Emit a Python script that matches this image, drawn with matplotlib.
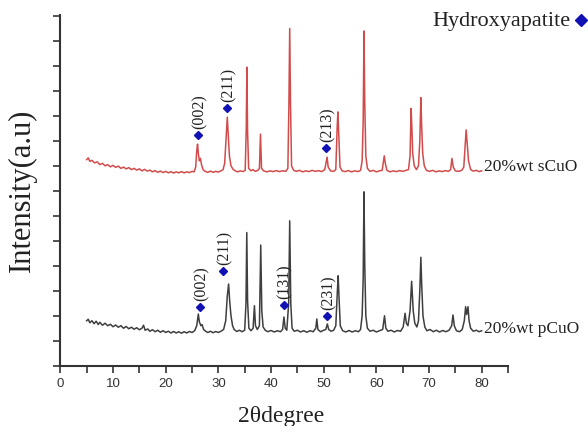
import numpy as np
import matplotlib.pyplot as plt
from matplotlib.ticker import MultipleLocator

# XRD traces: (2theta, intensity offset) vertices
s_cuo = [
    (5.0, 8.25), (5.3, 8.32), (5.6, 8.18), (6.0, 8.22), (6.5, 8.12), (7.0, 8.16),
    (7.5, 8.05), (8.0, 8.10), (8.5, 8.00), (9.0, 8.05), (9.5, 7.96), (10.0, 8.02),
    (10.5, 7.94), (11.0, 7.99), (11.5, 7.90), (12.0, 7.95), (12.5, 7.88), (13.0, 7.93),
    (13.5, 7.85), (14.0, 7.90), (14.5, 7.83), (15.0, 7.88), (15.5, 7.80), (16.0, 7.86),
    (16.5, 7.79), (17.0, 7.83), (17.5, 7.76), (18.0, 7.81), (18.5, 7.74), (19.0, 7.79),
    (19.5, 7.73), (20.0, 7.78), (20.5, 7.72), (21.0, 7.77), (21.5, 7.71), (22.0, 7.76),
    (22.5, 7.72), (23.0, 7.77), (23.5, 7.72), (24.0, 7.76), (24.5, 7.73), (25.0, 7.78),
    (25.4, 7.76), (25.7, 7.95), (25.9, 8.6), (26.05, 8.87), (26.2, 8.5), (26.4, 8.2),
    (26.6, 8.3), (26.8, 8.05), (27.1, 7.85), (27.5, 7.78), (28.0, 7.74), (28.5, 7.79),
    (29.0, 7.74), (29.5, 7.78), (30.0, 7.75), (30.5, 7.80), (30.9, 7.85), (31.2, 8.1),
    (31.45, 9.0), (31.7, 9.95), (31.9, 9.2), (32.1, 8.4), (32.4, 8.0), (32.8, 7.86),
    (33.2, 7.80), (33.7, 7.76), (34.2, 7.80), (34.7, 7.77), (35.1, 7.82), (35.3, 9.5),
    (35.42, 11.95), (35.55, 9.4), (35.75, 7.9), (36.2, 7.80), (36.6, 7.85), (37.0, 7.78),
    (37.5, 7.82), (37.8, 7.9), (38.0, 9.27), (38.2, 7.9), (38.6, 7.80), (39.2, 7.76),
    (39.8, 7.80), (40.4, 7.77), (41.0, 7.81), (41.6, 7.77), (42.2, 7.80), (42.8, 7.78),
    (43.2, 7.9), (43.4, 10.5), (43.55, 13.5), (43.7, 10.5), (43.9, 8.0), (44.3, 7.82),
    (44.8, 7.78), (45.4, 7.82), (46.0, 7.76), (46.6, 7.80), (47.2, 7.77), (47.8, 7.82),
    (48.4, 7.78), (49.0, 7.81), (49.6, 7.77), (50.2, 7.85), (50.5, 8.2), (50.65, 8.35),
    (50.85, 7.95), (51.3, 7.80), (51.9, 7.78), (52.3, 7.85), (52.55, 9.5), (52.7, 10.16),
    (52.85, 9.3), (53.1, 7.95), (53.5, 7.80), (54.1, 7.77), (54.7, 7.81), (55.3, 7.76),
    (55.9, 7.80), (56.5, 7.77), (57.0, 7.82), (57.3, 8.2), (57.5, 9.8), (57.65, 13.4),
    (57.8, 10.5), (58.0, 8.4), (58.3, 7.9), (58.8, 7.78), (59.4, 7.82), (60.0, 7.76),
    (60.6, 7.80), (61.1, 7.82), (61.35, 8.2), (61.5, 8.4), (61.7, 8.1), (62.0, 7.82),
    (62.6, 7.76), (63.2, 7.80), (63.8, 7.77), (64.4, 7.81), (65.0, 7.78), (65.6, 7.82),
    (66.1, 7.85), (66.4, 8.4), (66.6, 10.3), (66.75, 9.5), (66.9, 8.5), (67.2, 8.0),
    (67.6, 7.85), (68.0, 8.0), (68.25, 9.0), (68.45, 10.73), (68.6, 9.6), (68.8, 8.5),
    (69.1, 8.0), (69.5, 7.82), (70.1, 7.78), (70.7, 7.82), (71.3, 7.76), (71.9, 7.80),
    (72.5, 7.77), (73.1, 7.81), (73.7, 7.78), (74.1, 7.85), (74.35, 8.3), (74.6, 7.95),
    (75.0, 7.80), (75.6, 7.78), (76.2, 7.82), (76.6, 7.95), (76.9, 8.9), (77.05, 9.44),
    (77.25, 8.9), (77.5, 8.2), (77.9, 7.85), (78.4, 7.79), (79.0, 7.82), (79.5, 7.77),
    (80.0, 7.80),
]

p_cuo = [
    (5.0, 1.80), (5.3, 1.86), (5.6, 1.72), (6.0, 1.80), (6.4, 1.68), (6.8, 1.78),
    (7.2, 1.65), (7.5, 1.74), (8.0, 1.62), (8.5, 1.70), (9.0, 1.60), (9.5, 1.66),
    (10.0, 1.56), (10.5, 1.63), (11.0, 1.54), (11.5, 1.60), (12.0, 1.50), (12.5, 1.57),
    (13.0, 1.48), (13.5, 1.54), (14.0, 1.46), (14.5, 1.52), (15.0, 1.44), (15.5, 1.50),
    (15.8, 1.62), (16.1, 1.42), (16.6, 1.47), (17.0, 1.38), (17.5, 1.44), (18.0, 1.36),
    (18.5, 1.42), (19.0, 1.34), (19.5, 1.40), (20.0, 1.33), (20.5, 1.38), (21.0, 1.31),
    (21.5, 1.37), (22.0, 1.31), (22.5, 1.36), (23.0, 1.30), (23.5, 1.36), (24.0, 1.31),
    (24.5, 1.37), (25.0, 1.33), (25.5, 1.40), (25.9, 1.6), (26.2, 2.07), (26.4, 1.75),
    (26.7, 1.6), (26.9, 1.65), (27.2, 1.45), (27.6, 1.38), (28.0, 1.33), (28.5, 1.38),
    (29.0, 1.32), (29.5, 1.37), (30.0, 1.33), (30.5, 1.38), (31.0, 1.45), (31.4, 1.8),
    (31.7, 2.8), (31.95, 3.27), (32.15, 2.6), (32.4, 2.0), (32.7, 1.6), (33.0, 1.45),
    (33.5, 1.37), (34.0, 1.42), (34.5, 1.36), (35.0, 1.42), (35.25, 2.5), (35.4, 5.33),
    (35.55, 2.6), (35.8, 1.5), (36.2, 1.40), (36.6, 1.5), (36.85, 2.4), (37.05, 1.6),
    (37.4, 1.45), (37.8, 1.6), (38.05, 4.83), (38.25, 2.2), (38.5, 1.55), (38.9, 1.42),
    (39.4, 1.36), (40.0, 1.41), (40.6, 1.35), (41.2, 1.40), (41.8, 1.36), (42.2, 1.45),
    (42.45, 1.95), (42.7, 1.5), (43.0, 1.42), (43.35, 2.5), (43.55, 5.8), (43.75, 2.5),
    (44.0, 1.5), (44.4, 1.38), (45.0, 1.42), (45.6, 1.35), (46.2, 1.40), (46.8, 1.34),
    (47.4, 1.40), (48.0, 1.36), (48.5, 1.5), (48.7, 1.87), (48.9, 1.45), (49.4, 1.36),
    (50.0, 1.42), (50.4, 1.45), (50.7, 1.67), (50.95, 1.45), (51.4, 1.38), (51.9, 1.42),
    (52.3, 1.6), (52.6, 3.0), (52.75, 3.6), (52.9, 2.8), (53.15, 1.6), (53.6, 1.40),
    (54.2, 1.35), (54.8, 1.41), (55.4, 1.35), (56.0, 1.40), (56.6, 1.36), (57.0, 1.45),
    (57.3, 2.0), (57.5, 3.5), (57.65, 6.96), (57.8, 4.0), (58.0, 2.0), (58.3, 1.5),
    (58.8, 1.38), (59.4, 1.42), (60.0, 1.35), (60.6, 1.40), (61.2, 1.45), (61.55, 2.0),
    (61.8, 1.5), (62.2, 1.38), (62.8, 1.42), (63.4, 1.35), (64.0, 1.41), (64.6, 1.38),
    (65.1, 1.55), (65.45, 2.1), (65.7, 1.7), (66.0, 1.6), (66.4, 2.2), (66.7, 3.38),
    (66.85, 2.8), (67.0, 2.2), (67.3, 1.7), (67.7, 1.55), (68.0, 1.8), (68.25, 3.0),
    (68.45, 4.34), (68.6, 3.3), (68.85, 2.0), (69.2, 1.55), (69.6, 1.40), (70.2, 1.45),
    (70.8, 1.36), (71.4, 1.42), (72.0, 1.35), (72.6, 1.41), (73.2, 1.36), (73.8, 1.42),
    (74.3, 1.6), (74.55, 2.03), (74.8, 1.6), (75.2, 1.40), (75.8, 1.36), (76.3, 1.45),
    (76.7, 1.8), (76.95, 2.36), (77.15, 2.05), (77.4, 2.36), (77.6, 1.8), (77.9, 1.5),
    (78.4, 1.38), (79.0, 1.42), (79.5, 1.36), (80.0, 1.40),
]

# hydroxyapatite reflections marked with diamonds
s_hkl = ['(002)', '(211)', '(213)']
s_hkl_pos = [26.1, 31.6, 50.4]
s_hkl_y = [9.23, 10.3, 8.7]

p_hkl = ['(002)', '(211)', '(131)', '(231)']
p_hkl_pos = [26.5, 30.9, 42.4, 50.7]
p_hkl_y = [2.36, 3.78, 2.44, 2.0]

series_names = ['20%wt sCuO', '20%wt pCuO']
series_label_y = [7.99, 1.5]

serif = 'Liberation Serif'
sans = 'Liberation Sans'
red = '#d24b4b'
dark = '#3f3f3f'
blue = '#1212b4'

fig = plt.figure(figsize=(5.88, 4.27), dpi=100)
ax = fig.add_axes([0.1026, 0.1412, 0.7614, 0.822])

sx, sy = np.array(s_cuo).T
px, py = np.array(p_cuo).T
ax.plot(sx, sy, color=red, lw=1.1)
ax.plot(px, py, color=dark, lw=1.1)

for names, pos, ys in [(s_hkl, s_hkl_pos, s_hkl_y), (p_hkl, p_hkl_pos, p_hkl_y)]:
    ax.plot(pos, ys, 'D', color=blue, ms=4.5, ls='none')
    for n, x, y in zip(names, pos, ys):
        ax.annotate(n, (x, y), xytext=(1, 5), textcoords='offset points',
                    rotation=90, ha='center', va='bottom',
                    fontfamily=serif, fontsize=11.5, color='#222222')

for n, y in zip(series_names, series_label_y):
    ax.text(80.5, y, n, ha='left', va='center', fontfamily=serif,
            fontsize=12.5, color='#222222', clip_on=False)

ax.set_xlim(0, 85)
ax.set_ylim(0, 14.05)
ax.xaxis.set_major_locator(MultipleLocator(10))
ax.xaxis.set_minor_locator(MultipleLocator(5))
ax.yaxis.set_major_locator(MultipleLocator(1))
ax.set_yticklabels([])
ax.set_xticks([0, 10, 20, 30, 40, 50, 60, 70, 80])
ax.tick_params(which='both', direction='out', width=1.2, length=5, color='#333333')
ax.tick_params(axis='x', labelsize=9.5, pad=3, labelcolor='#333333')
for lab in ax.get_xticklabels():
    lab.set_fontfamily(sans)
for side in ['top', 'right']:
    ax.spines[side].set_visible(False)
for side in ['left', 'bottom']:
    ax.spines[side].set_linewidth(1.5)
    ax.spines[side].set_color('#333333')

ax.set_xlabel('2θdegree', fontfamily=serif, fontsize=17, color='#222222')
ax.xaxis.set_label_coords(0.493, -0.113)
ax.set_ylabel('Intensity(a.u)', fontfamily=serif, fontsize=22, color='#222222')
ax.yaxis.set_label_coords(-0.052, 0.503)

# legend entry outside the axes
fig.text(0.9694, 0.9508, 'Hydroxyapatite', ha='right', va='center',
         fontfamily=serif, fontsize=16, color='#222222')
fig.add_artist(plt.Line2D([0.988], [0.9508], marker='D', color=blue, ms=6,
                          ls='none', transform=fig.transFigure))

fig.savefig('out.png', dpi=100)
